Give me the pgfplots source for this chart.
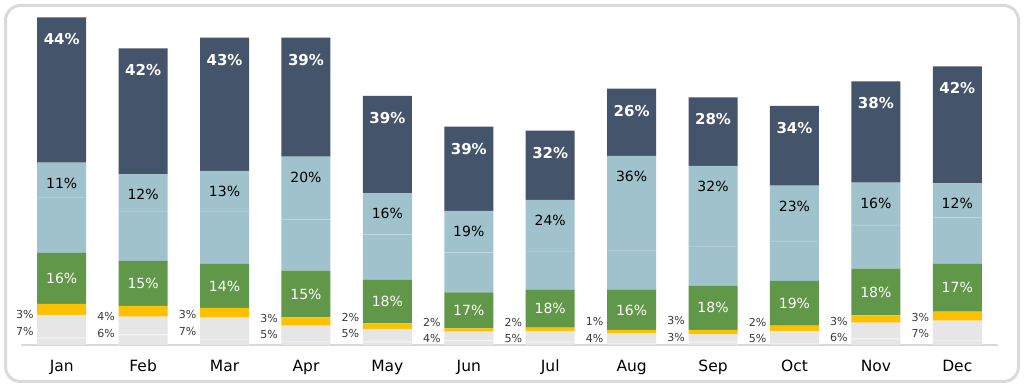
\documentclass[border=0pt]{standalone}
\usepackage{pgfplots}
\pgfplotsset{compat=1.18}
\usepackage{pgfplotstable}
\usepackage{fontspec}
\setmainfont{DejaVu Sans}
\definecolor{navy}{HTML}{44546A}
\definecolor{lblue}{HTML}{9FC2CD}
\definecolor{lbline}{HTML}{B0CFD8}
\definecolor{grn}{HTML}{619748}
\definecolor{yel}{HTML}{FFC000}
\definecolor{gry}{HTML}{E6E6E6}
\definecolor{gryline}{HTML}{F1F1F1}
\definecolor{frm}{HTML}{DADADA}
\definecolor{axl}{HTML}{D9D9D9}
\definecolor{smalltxt}{HTML}{3A3A3A}

% segment heights (bottom to top); sep = thin divider between same-coloured parts
\pgfplotstableread{
x  g1   g2   yel  grn  blL  blU  nav   pn pb pg py pr  yy   gy
0  6.5  22.7 11.0 51.0 55.2 34.3 145.4 44 11 16 3  7   30.3 14.0
1  9.7  17.8 10.7 45.0 49.2 36.7 126.0 42 12 15 4  6   28.3 12.0
2  5.4  21.5 9.3  44.0 52.2 40.0 133.3 43 13 14 3  7   30.3 14.0
3  3.1  15.4 8.4  46.6 50.6 62.6 119.0 39 20 15 3  5   26.7 10.3
4  2.7  12.5 5.7  43.3 44.9 41.0 97.3  39 16 18 2  5   28.0 11.3
5  3.8  8.7  3.4  36.0 39.2 41.3 84.3  39 19 17 2  4   22.7 6.7
6  2.5  10.7 3.3  37.7 38.2 51.0 69.3  32 24 18 2  5   22.7 6.7
7  0.6  10.3 3.3  40.0 39.2 94.0 67.3  26 36 16 1  4   23.3 6.7
8  2.5  7.4  4.3  44.3 38.9 80.0 68.7  28 32 18 3  3   24.5 8.0
9  1.2  12.0 5.3  44.7 39.2 55.3 79.7  34 23 19 2  5   22.7 6.7
10 5.7  15.8 7.4  46.6 42.9 42.3 101.4 38 16 18 3  6   24.0 7.3
11 4.0  19.5 9.0  47.7 45.9 34.0 117.0 42 12 17 3  7   27.7 12.0
}\data

\pgfplotsset{
  geom/.style={
    scale only axis, width=977pt, height=340pt,
    xmin=-0.5, xmax=11.5, ymin=0, ymax=340,
    at={(21pt,42pt)}, anchor=south west,
  },
  lbl/.style={only marks, mark=none, point meta=explicit symbolic,
    nodes near coords={\pgfplotspointmeta\%}},
}

\begin{document}
\begin{tikzpicture}[x=1pt,y=1pt]
\useasboundingbox (0,0) rectangle (1024,387);
\fill[white] (0,0) rectangle (1024,387);
\draw[frm, line width=3pt, rounded corners=15pt] (5.5,5.5) rectangle (1018.5,381.5);

\begin{axis}[geom,
  ybar stacked, bar width=49pt,
  axis x line*=bottom, axis y line=none,
  x axis line style={axl, line width=1.6pt, -},
  xtick={0,...,11},
  xticklabels={Jan,Feb,Mar,Apr,May,Jun,Jul,Aug,Sep,Oct,Nov,Dec},
  major tick length=0pt,
  xticklabel style={anchor=base, yshift=-27pt, font=\fontsize{15.5}{18}\selectfont, text=black},
  ytick=\empty,
  clip=false,
]
\addplot[fill=gry, draw=none] table[x=x,y=g1]{\data};
\addplot[fill=gryline, draw=none] table[x=x,y expr=0.8]{\data};
\addplot[fill=gry, draw=none] table[x=x,y=g2]{\data};
\addplot[fill=yel, draw=none] table[x=x,y=yel]{\data};
\addplot[fill=grn, draw=none] table[x=x,y=grn]{\data};
\addplot[fill=lblue, draw=none] table[x=x,y=blL]{\data};
\addplot[fill=lbline, draw=none] table[x=x,y expr=0.8]{\data};
\addplot[fill=lblue, draw=none] table[x=x,y=blU]{\data};
\addplot[fill=navy, draw=none] table[x=x,y=nav]{\data};
\end{axis}

\begin{axis}[geom, hide axis, clip=false]
% navy labels, near the top of the bar
\addplot[lbl, every node near coord/.append style={anchor=center, text=white,
     font=\fontsize{15}{17}\selectfont\bfseries}]
  table[x=x, meta=pn, y expr=\thisrow{g1}+0.8+\thisrow{g2}+\thisrow{yel}+\thisrow{grn}+\thisrow{blL}+0.8+\thisrow{blU}+\thisrow{nav}-22]{\data};
% light blue labels, near the top of the light blue part
\addplot[lbl, every node near coord/.append style={anchor=center, text=black,
     font=\fontsize{14}{16}\selectfont}]
  table[x=x, meta=pb, y expr=\thisrow{g1}+0.8+\thisrow{g2}+\thisrow{yel}+\thisrow{grn}+\thisrow{blL}+0.8+\thisrow{blU}-20.5]{\data};
% green labels, centred
\addplot[lbl, every node near coord/.append style={anchor=center, text=white,
     font=\fontsize{14}{16}\selectfont}]
  table[x=x, meta=pg, y expr=\thisrow{g1}+0.8+\thisrow{g2}+\thisrow{yel}+0.5*\thisrow{grn}]{\data};
% small labels left of the bars
\addplot[lbl, every node near coord/.append style={anchor=east, xshift=-28pt, inner sep=0pt, text=smalltxt,
     font=\fontsize{11}{13}\selectfont}]
  table[x=x,y=yy,meta=py]{\data};
\addplot[lbl, every node near coord/.append style={anchor=east, xshift=-28pt, inner sep=0pt, text=smalltxt,
     font=\fontsize{11}{13}\selectfont}]
  table[x=x,y=gy,meta=pr]{\data};
\end{axis}
\end{tikzpicture}
\end{document}
